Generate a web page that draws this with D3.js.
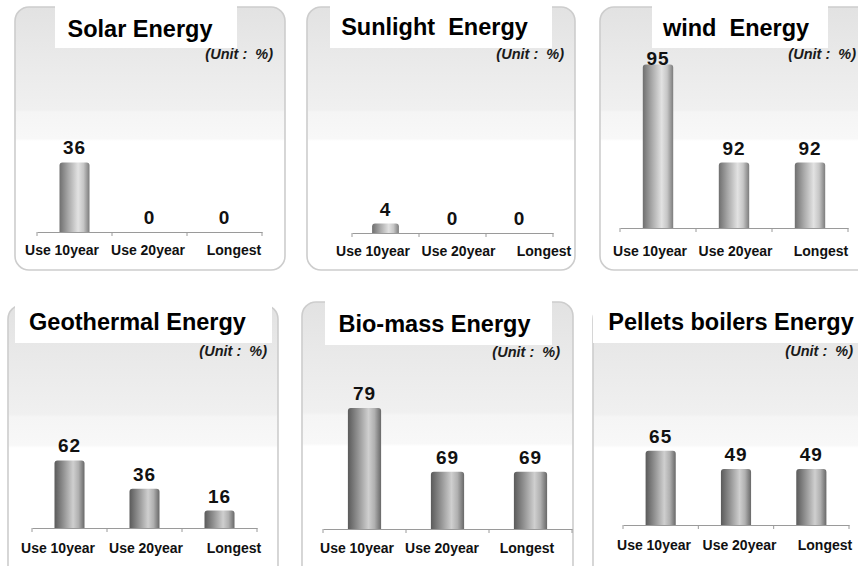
<!DOCTYPE html>
<html>
<head>
<meta charset="utf-8">
<script src="https://cdn.jsdelivr.net/npm/d3@7"></script>
<style>
  html, body { margin: 0; padding: 0; background: #fff; }
  svg { display: block; }
  text { font-family: "Liberation Sans", Arial, Helvetica, sans-serif; }
</style>
</head>
<body>
<svg id="chart" width="858" height="566"></svg>
<script>
// ---- data ----
const titles = ["Solar Energy", "Sunlight  Energy", "wind  Energy",
                "Geothermal Energy", "Bio-mass Energy", "Pellets boilers Energy"];
const categories = ["Use 10year", "Use 20year", "Longest"];
const solarValues      = [36, 0, 0];
const sunlightValues   = [4, 0, 0];
const windValues       = [95, 92, 92];
const geothermalValues = [62, 36, 16];
const biomassValues    = [79, 69, 69];
const pelletsValues    = [65, 49, 49];
const unitLabel = "(Unit :  %)";
// value-axis domain for each small chart
const yDomains = [[0, 88], [0, 72], [90, 95.2], [0, 156], [60, 86.7], [0, 149]];

const seriesList = [solarValues, sunlightValues, windValues,
                    geothermalValues, biomassValues, pelletsValues];

// ---- layout of the six panels ----
const layout = [
  { frame: [15, 7, 285, 270],   box: [55, 4, 237, 48],   tx: 140,   ty: 37,  ux: 273, uy: 59,  ay: 232, ax: [37, 262],  lx: [62, 234],  ly: 255 },
  { frame: [307, 7, 575, 270],  box: [330, 4, 552, 48],  tx: 434.5, ty: 35,  ux: 564, uy: 59,  ay: 233, ax: [352, 553], lx: [373, 544], ly: 256 },
  { frame: [600, 7, 875, 270],  box: [652, 4, 828, 48],  tx: 736,   ty: 36,  ux: 856, uy: 59,  ay: 228, ax: [620, 848], lx: [650, 821], ly: 256 },
  { frame: [8, 305, 278, 585],  box: [15, 296, 272, 343], tx: 137.5, ty: 330, ux: 267, uy: 356, ay: 528, ax: [32, 257],  lx: [58, 234],  ly: 553 },
  { frame: [302, 302, 573, 585], box: [325, 296, 552, 345], tx: 434.5, ty: 332, ux: 560, uy: 357, ay: 529, ax: [323, 572], lx: [357, 527], ly: 553 },
  { frame: [593, 305, 875, 585], box: [593, 296, 858, 343], tx: 731,   ty: 330, ux: 853, uy: 356, ay: 525, ax: [623, 849], lx: [654, 825], ly: 550 }
];
const plotHeight = 170;

const svg = d3.select("#chart");
const defs = svg.append("defs");

// soft grey wash behind the upper half of each panel
const bg = defs.append("linearGradient").attr("id", "panelWash")
  .attr("x1", 0).attr("y1", 0).attr("x2", 0).attr("y2", 1);
[[0, "#e2e2e2"], [0.18, "#e9e9e9"], [0.39, "#f0f0f0"], [0.4, "#f5f5f5"],
 [0.5, "#f8f8f8"], [0.51, "#ffffff"], [1, "#ffffff"]]
  .forEach(([o, c]) => bg.append("stop").attr("offset", o).attr("stop-color", c));

// cylinder shading for the bars
function cylinder(id, stops) {
  const g = defs.append("linearGradient").attr("id", id)
    .attr("x1", 0).attr("y1", 0).attr("x2", 1).attr("y2", 0);
  stops.forEach(([o, c]) => g.append("stop").attr("offset", o).attr("stop-color", c));
}
cylinder("barTop", [[0, "#6f6f6f"], [0.3, "#a9a9a9"], [0.62, "#e2e2e2"], [0.8, "#c6c6c6"], [1, "#7c7c7c"]]);
cylinder("barBottom", [[0, "#5a5a5a"], [0.3, "#929292"], [0.62, "#cfcfcf"], [0.8, "#b0b0b0"], [1, "#686868"]]);

function barPath(x0, w, yTop, yBase) {
  const r = Math.min(3, (yBase - yTop) / 2, w / 2);
  return `M${x0},${yBase}V${yTop + r}Q${x0},${yTop} ${x0 + r},${yTop}` +
         `H${x0 + w - r}Q${x0 + w},${yTop} ${x0 + w},${yTop + r}V${yBase}Z`;
}

seriesList.forEach((values, i) => {
  const L = layout[i];
  const g = svg.append("g");
  const [fx0, fy0, fx1, fy1] = L.frame;

  // panel frame
  g.append("rect")
    .attr("x", fx0).attr("y", fy0)
    .attr("width", fx1 - fx0).attr("height", fy1 - fy0)
    .attr("rx", 14).attr("ry", 14)
    .attr("fill", "url(#panelWash)")
    .attr("stroke", "#cdcdcd").attr("stroke-width", 1.6);

  // white title plate
  const [bx0, by0, bx1, by1] = L.box;
  g.append("rect")
    .attr("x", bx0).attr("y", by0)
    .attr("width", bx1 - bx0).attr("height", by1 - by0)
    .attr("fill", "#ffffff");

  g.append("text")
    .attr("x", L.tx).attr("y", L.ty)
    .attr("text-anchor", "middle")
    .style("white-space", "pre")
    .attr("font-size", 23.5).attr("font-weight", "bold").attr("fill", "#000")
    .text(titles[i]);

  g.append("text")
    .attr("x", L.ux).attr("y", L.uy)
    .attr("text-anchor", "end")
    .style("white-space", "pre")
    .attr("font-size", 14.5).attr("font-weight", "bold").attr("font-style", "italic")
    .attr("fill", "#1a1a1a")
    .text(unitLabel);

  // scales
  const x = d3.scaleBand().domain(categories).range(L.ax).padding(0);
  const y = d3.scaleLinear().domain(yDomains[i]).range([L.ay, L.ay - plotHeight]).clamp(true);
  const lx = d3.scalePoint().domain(categories).range(L.lx);

  // baseline axis with ticks at the category boundaries
  const axis = g.append("g").attr("transform", `translate(0,${L.ay})`)
    .call(d3.axisBottom(x).tickSize(0).tickFormat(""));
  axis.select(".domain").attr("stroke", "#9a9a9a").attr("stroke-width", 1.2);
  const bounds = categories.map(c => x(c)).concat([x.range()[1]]);
  axis.selectAll(".bound").data(bounds).join("line")
    .attr("class", "bound")
    .attr("x1", d => d).attr("x2", d => d)
    .attr("y1", 0).attr("y2", 4)
    .attr("stroke", "#9a9a9a");

  const bw = x.bandwidth() * 0.4;
  const data = categories.map((c, k) => ({ c, v: values[k] }));

  g.selectAll(".bar").data(data.filter(d => y(d.v) < L.ay)).join("path")
    .attr("class", "bar")
    .attr("d", d => barPath(x(d.c) + (x.bandwidth() - bw) / 2, bw, y(d.v), L.ay))
    .attr("fill", i < 3 ? "url(#barTop)" : "url(#barBottom)");

  // value labels above the bars
  g.selectAll(".val").data(data).join("text")
    .attr("class", "val")
    .attr("x", d => x(d.c) + x.bandwidth() / 2)
    .attr("y", d => Math.max(y(d.v) - 8, by1 + 17))
    .attr("text-anchor", "middle")
    .attr("font-size", 19).attr("font-weight", "bold").attr("fill", "#111")
    .attr("letter-spacing", 1)
    .text(d => d.v);

  // category labels
  g.selectAll(".cat").data(categories).join("text")
    .attr("class", "cat")
    .attr("x", d => lx(d)).attr("y", L.ly)
    .attr("text-anchor", "middle")
    .attr("font-size", 14).attr("font-weight", "bold").attr("fill", "#111")
    .text(d => d);
});
</script>
</body>
</html>
